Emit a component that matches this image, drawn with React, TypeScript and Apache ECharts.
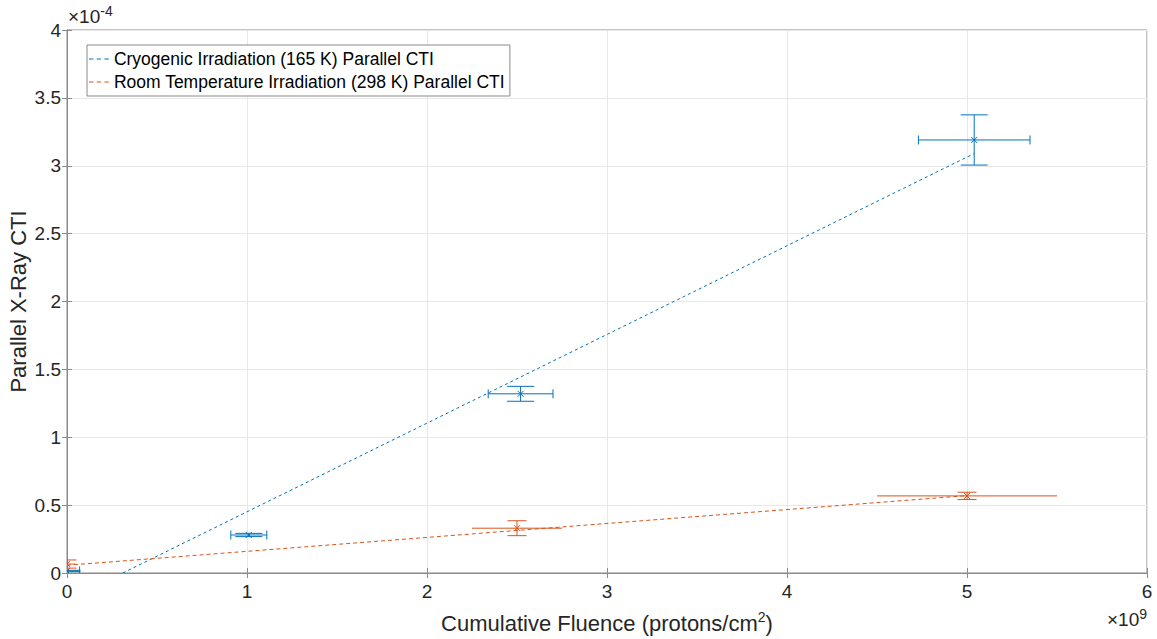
import React, { useEffect, useRef } from "react";
import * as echarts from "echarts";

// Values in units of 1e9 protons/cm^2 (x) and 1e-4 (y)
const cryoX = [0, 1.01, 2.52, 5.04];
const cryoY = [0.015, 0.28, 1.32, 3.19];
const cryoXErr = [0.07, 0.1, 0.18, 0.31];
const cryoYErr = [0.005, 0.012, 0.055, 0.185];

const roomX = [0, 2.5, 5.0];
const roomY = [0.066, 0.33, 0.568];
const roomXErr = [0.045, 0.25, 0.5];
const roomYErr = [0.03, 0.055, 0.027];

const cryoFitX = [0.31, 5.04];
const cryoFitY = [0, 3.09];
const roomFitX = [0, 5.0];
const roomFitY = [0.057, 0.57];

const xTicks = [0, 1, 2, 3, 4, 5, 6];
const yTicks = [0, 0.5, 1, 1.5, 2, 2.5, 3, 3.5, 4];

const cryoName = "Cryogenic Irradiation (165 K) Parallel CTI";
const roomName = "Room Temperature Irradiation (298 K) Parallel CTI";

const BLUE = "#0072BD";
const ORANGE = "#D95319";
const AXIS = "#8a8a8a";
const TEXT = "#262626";
const FONT = "'Liberation Sans', Arial, Helvetica, sans-serif";
const DASH_ICON = "path://M0 0H4V1H0Z M7 0H11V1H7Z M14 0H18V1H14Z";

function makeRender(color: string, yCapHalf: number, xCapHalf: number) {
  return (params: any, api: any) => {
    const x = api.value(0);
    const y = api.value(1);
    const xe = api.value(2);
    const ye = api.value(3);
    const c = api.coord([x, y]);
    const l = api.coord([x - xe, y]);
    const r = api.coord([x + xe, y]);
    const t = api.coord([x, y + ye]);
    const b = api.coord([x, y - ye]);
    const style = { stroke: color, lineWidth: 1, fill: null };
    const ln = (x1: number, y1: number, x2: number, y2: number) => ({
      type: "line",
      shape: { x1, y1, x2, y2 },
      style,
    });
    const children: any[] = [
      ln(l[0], c[1], r[0], c[1]),
      ln(c[0], t[1], c[0], b[1]),
      ln(c[0] - yCapHalf, t[1], c[0] + yCapHalf, t[1]),
      ln(c[0] - yCapHalf, b[1], c[0] + yCapHalf, b[1]),
    ];
    if (xCapHalf > 0) {
      children.push(ln(l[0], c[1] - xCapHalf, l[0], c[1] + xCapHalf));
      children.push(ln(r[0], c[1] - xCapHalf, r[0], c[1] + xCapHalf));
    }
    const m = 3;
    children.push(ln(c[0] - m, c[1] - m, c[0] + m, c[1] + m));
    children.push(ln(c[0] - m, c[1] + m, c[0] + m, c[1] - m));
    return { type: "group", children };
  };
}

export default function App() {
  const ref = useRef<HTMLDivElement>(null);
  useEffect(() => {
    if (!ref.current) return;
    const chart = echarts.init(ref.current, undefined, { renderer: "svg" });
    const cryoData = cryoX.map((x, i) => [x, cryoY[i], cryoXErr[i], cryoYErr[i]]);
    const roomData = roomX.map((x, i) => [x, roomY[i], roomXErr[i], roomYErr[i]]);
    const axisCommon = {
      type: "value",
      axisLine: { show: true, lineStyle: { color: AXIS, width: 1 } },
      axisTick: { show: true, inside: true, length: 5, lineStyle: { color: AXIS } },
    };
    chart.setOption({
      animation: false,
      textStyle: { fontFamily: FONT },
      grid: {
        left: 67,
        right: 10,
        top: 30,
        bottom: 66,
        containLabel: false,
        outerBoundsMode: "none",
        show: true,
        borderColor: AXIS,
        borderWidth: 1,
        backgroundColor: "#fff",
      },
      legend: {
        data: [
          { name: cryoName, icon: DASH_ICON, itemStyle: { color: BLUE } },
          { name: roomName, icon: DASH_ICON, itemStyle: { color: ORANGE } },
        ],
        orient: "vertical",
        left: 87,
        top: 45,
        itemWidth: 20,
        itemHeight: 1.1,
        itemGap: 3,
        padding: [4, 5, 4, 2],
        borderColor: AXIS,
        borderWidth: 1,
        borderRadius: 0,
        backgroundColor: "#fff",
        textStyle: { fontSize: 17.5, color: "#000", fontFamily: FONT, lineHeight: 20 },
      },
      xAxis: [
        {
          ...axisCommon,
          min: xTicks[0],
          max: xTicks[xTicks.length - 1],
          interval: 1,
          axisLabel: { fontSize: 19, color: TEXT, margin: 9, fontFamily: FONT },
          splitLine: { show: true, lineStyle: { color: "#e8e8e8", width: 1 } },
          name: "Cumulative Fluence (protons/cm{sup|2})",
          nameLocation: "middle",
          nameGap: 37,
          nameMoveOverlap: false,
          nameTextStyle: {
            fontSize: 22,
            color: TEXT,
            fontFamily: FONT,
            rich: { sup: { fontSize: 14, verticalAlign: "top", padding: [0, 0, 12, 0], color: TEXT, fontFamily: FONT } },
          },
        },
        {
          ...axisCommon,
          position: "top",
          min: xTicks[0],
          max: xTicks[xTicks.length - 1],
          interval: 1,
          axisLabel: { show: false },
          splitLine: { show: false },
        },
      ],
      yAxis: [
        {
          ...axisCommon,
          min: yTicks[0],
          max: yTicks[yTicks.length - 1],
          interval: 0.5,
          axisLabel: { fontSize: 19, color: TEXT, margin: 6, fontFamily: FONT },
          splitLine: { show: true, lineStyle: { color: "#e8e8e8", width: 1 } },
          name: "Parallel X-Ray CTI",
          nameLocation: "middle",
          nameGap: 38,
          nameMoveOverlap: false,
          nameTextStyle: { fontSize: 22, color: TEXT, fontFamily: FONT },
        },
        {
          ...axisCommon,
          position: "right",
          min: yTicks[0],
          max: yTicks[yTicks.length - 1],
          interval: 0.5,
          axisLabel: { show: false },
          splitLine: { show: false },
        },
      ],
      graphic: [
        {
          type: "text",
          left: 68,
          top: 4,
          style: {
            text: "×10{sup|-4}",
            fontSize: 19,
            fill: TEXT,
            fontFamily: FONT,
            rich: { sup: { fontSize: 14, verticalAlign: "top", padding: [0, 0, 10, 0], fill: TEXT, fontFamily: FONT } },
          },
        },
        {
          type: "text",
          right: 10,
          top: 607,
          style: {
            text: "×10{sup|9}",
            fontSize: 19,
            fill: TEXT,
            fontFamily: FONT,
            rich: { sup: { fontSize: 14, verticalAlign: "top", padding: [0, 0, 10, 0], fill: TEXT, fontFamily: FONT } },
          },
        },
      ],
      series: [
        {
          name: cryoName,
          type: "line",
          data: cryoFitX.map((x, i) => [x, cryoFitY[i]]),
          symbol: "none",
          lineStyle: { color: BLUE, type: [3, 3], width: 1 },
          itemStyle: { color: BLUE },
          z: 3,
        },
        {
          name: roomName,
          type: "line",
          data: roomFitX.map((x, i) => [x, roomFitY[i]]),
          symbol: "none",
          lineStyle: { color: ORANGE, type: [4, 3], width: 1 },
          itemStyle: { color: ORANGE },
          z: 3,
        },
        {
          type: "custom",
          name: "cryoErr",
          data: cryoData,
          clip: true,
          renderItem: makeRender(BLUE, 13.5, 4.5),
          encode: { x: 0, y: 1 },
          z: 4,
        },
        {
          type: "custom",
          name: "roomErr",
          data: roomData,
          clip: true,
          renderItem: makeRender(ORANGE, 9.5, 0),
          encode: { x: 0, y: 1 },
          z: 4,
        },
      ],
    });
    return () => chart.dispose();
  }, []);
  return (
    <div
      ref={ref}
      style={{ position: "fixed", left: 0, top: 0, width: 1157, height: 639, background: "#fff" }}
    />
  );
}
